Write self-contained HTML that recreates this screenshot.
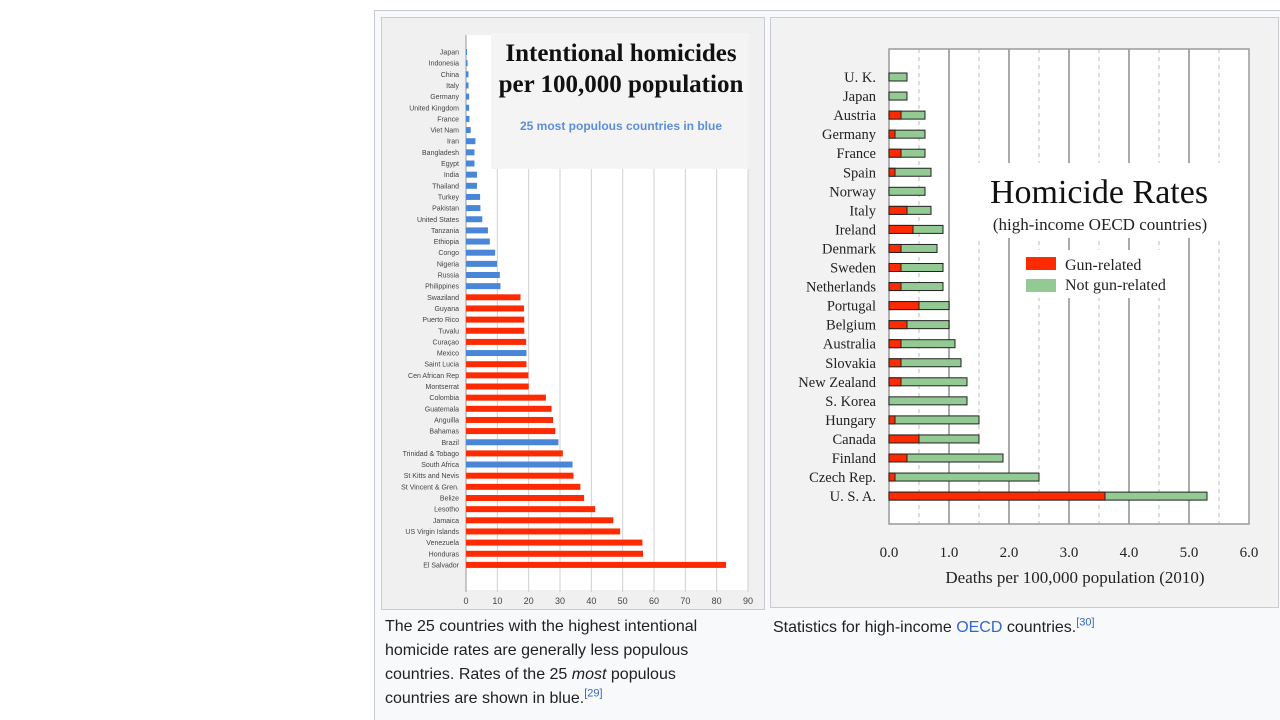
<!DOCTYPE html>
<html><head><meta charset="utf-8"><style>
body{margin:0;width:1280px;height:720px;background:#fff;overflow:hidden;font-family:"Liberation Sans",Arial,sans-serif}
svg{position:absolute;left:0;top:0}
.cap{position:absolute;font-size:16px;color:#202122;line-height:24px}
.cap sup{font-size:11px;color:#3366cc;line-height:0}
</style></head><body>
<svg id="s" width="1280" height="720">
<rect x="374.5" y="10.5" width="910" height="715" fill="#f8f9fa" stroke="#c8ccd1"/>
<rect x="381.5" y="17.5" width="383" height="592" fill="#f0f0f0" stroke="#c8ccd1"/>
<rect x="770.5" y="17.5" width="508" height="590" fill="#f2f2f2" stroke="#c8ccd1"/>
<g id="L"></g>
<g id="R"></g>
</svg>
<div class="cap" style="left:385px;top:615px;width:350px">The 25 countries with the highest intentional homicide rates are generally less populous countries. Rates of the 25 <i>most</i> populous countries are shown in blue.<sup>[29]</sup></div>
<div class="cap" style="left:773px;top:616px;width:500px">Statistics for high-income <span style="color:#3366cc">OECD</span> countries.<sup>[30]</sup></div>
<script>
const lCountries=["Japan","Indonesia","China","Italy","Germany","United Kingdom","France","Viet Nam","Iran","Bangladesh","Egypt","India","Thailand","Turkey","Pakistan","United States","Tanzania","Ethiopia","Congo","Nigeria","Russia","Philippines","Swaziland","Guyana","Puerto Rico","Tuvalu","Curaçao","Mexico","Saint Lucia","Cen African Rep","Montserrat","Colombia","Guatemala","Anguilla","Bahamas","Brazil","Trinidad & Tobago","South Africa","St Kitts and Nevis","St Vincent & Gren.","Belize","Lesotho","Jamaica","US Virgin Islands","Venezuela","Honduras","El Salvador"];
const lValues=[0.3,0.5,0.8,0.8,1.0,1.0,1.1,1.5,3.0,2.7,2.7,3.5,3.5,4.5,4.6,5.2,7.0,7.6,9.3,9.9,10.8,11.0,17.4,18.5,18.6,18.6,19.2,19.3,19.3,19.9,20.0,25.5,27.3,27.8,28.5,29.5,30.9,34.0,34.3,36.5,37.7,41.2,47.0,49.2,56.3,56.5,83.0];
const lBlue=[1,1,1,1,1,1,1,1,1,1,1,1,1,1,1,1,1,1,1,1,1,1,0,0,0,0,0,1,0,0,0,0,0,0,0,1,0,1,0,0,0,0,0,0,0,0,0];
const lTicks=[0,10,20,30,40,50,60,70,80,90];
const rCountries=["U. K.","Japan","Austria","Germany","France","Spain","Norway","Italy","Ireland","Denmark","Sweden","Netherlands","Portugal","Belgium","Australia","Slovakia","New Zealand","S. Korea","Hungary","Canada","Finland","Czech Rep.","U. S. A."];
const rGun=[0,0,0.2,0.1,0.2,0.1,0,0.3,0.4,0.2,0.2,0.2,0.5,0.3,0.2,0.2,0.2,0,0.1,0.5,0.3,0.1,3.6];
const rTotal=[0.3,0.3,0.6,0.6,0.6,0.7,0.6,0.7,0.9,0.8,0.9,0.9,1.0,1.0,1.1,1.2,1.3,1.3,1.5,1.5,1.9,2.5,5.3];
const rTicks=["0.0","1.0","2.0","3.0","4.0","5.0","6.0"];
const NS="http://www.w3.org/2000/svg";
function mk(p,t,a,txt){const e=document.createElementNS(NS,t);for(const k in a)e.setAttribute(k,a[k]);if(txt!==undefined)e.textContent=txt;p.appendChild(e);return e;}
// LEFT
const L=document.getElementById('L');
const lx=v=>466+v*(282/90), ly=i=>52+i*11.15;
mk(L,'rect',{x:466,y:35,width:282,height:555,fill:'#fff'});
lTicks.forEach(t=>{const g=mk(L,'line',{x1:lx(t),x2:lx(t),y1:35,y2:592,stroke:'#d0d0d0','stroke-width':1});

const tx=mk(L,'text',{x:lx(t),y:604,'font-size':9,fill:'#444','text-anchor':'middle'},t);
});
mk(L,'line',{x1:466,x2:466,y1:35,y2:592,stroke:'#999'});
const tb=mk(L,'rect',{x:491,y:33,width:258,height:136,fill:'#f4f4f4'});

let t1=mk(L,'text',{x:621,y:61,'font-size':25,'font-weight':'bold','font-family':'Liberation Serif',fill:'#111','text-anchor':'middle'},'Intentional homicides');

let t2=mk(L,'text',{x:621,y:92,'font-size':25,'font-weight':'bold','font-family':'Liberation Serif',fill:'#111','text-anchor':'middle'},'per 100,000 population');

let t3=mk(L,'text',{x:621,y:130,'font-size':12,'font-weight':'bold',fill:'#5b8fd9','text-anchor':'middle'},'25 most populous countries in blue');

lCountries.forEach((c,i)=>{
 const lb=mk(L,'text',{x:459,y:ly(i)+2.5,'font-size':7,fill:'#444','text-anchor':'end'},c);
 
 const b=mk(L,'rect',{x:466,y:ly(i)-3,width:Math.max(1,lx(lValues[i])-466),height:6,fill:lBlue[i]?'#4a86d8':'#ff2a00'});
 
});
// RIGHT
const R=document.getElementById('R');
const rx=v=>889+v*60, ry=i=>77+i*19.05;
mk(R,'rect',{x:889,y:49,width:360,height:475,fill:'#fff'});
for(let k=1;k<12;k++){const g=mk(R,'line',{x1:rx(k/2),x2:rx(k/2),y1:49,y2:524,stroke:k%2?'#bbb':'#aaa','stroke-width':k%2?1:2,'stroke-dasharray':k%2?'4,4':'none'});
}
mk(R,'rect',{x:889,y:49,width:360,height:475,fill:'none',stroke:'#999','stroke-width':1.5});
rTicks.forEach((t,i)=>{const tx=mk(R,'text',{x:rx(i),y:557,'font-size':15,'font-family':'Liberation Serif',fill:'#222','text-anchor':'middle'},t);
});
let xt=mk(R,'text',{x:1075,y:583,'font-size':17,'font-family':'Liberation Serif',fill:'#222','text-anchor':'middle'},'Deaths per 100,000 population (2010)');

mk(R,'rect',{x:975,y:163,width:245,height:75,fill:'#fff'});
let h1=mk(R,'text',{x:1099,y:203,'font-size':34,'font-family':'Liberation Serif',fill:'#111','text-anchor':'middle'},'Homicide Rates');

let h2=mk(R,'text',{x:1100,y:230,'font-size':17,'font-family':'Liberation Serif',fill:'#222','text-anchor':'middle'},'(high-income OECD countries)');

mk(R,'rect',{x:1020,y:250,width:165,height:48,fill:'#fff'});
let lg1=mk(R,'rect',{x:1026,y:257,width:30,height:13,fill:'#ff2a00'});
let lg2=mk(R,'rect',{x:1026,y:279,width:30,height:13,fill:'#93c993'});
let lt1=mk(R,'text',{x:1065,y:270,'font-size':16,'font-family':'Liberation Serif',fill:'#222'},'Gun-related');
let lt2=mk(R,'text',{x:1065,y:290,'font-size':16,'font-family':'Liberation Serif',fill:'#222'},'Not gun-related');
rCountries.forEach((c,i)=>{
 const lb=mk(R,'text',{x:876,y:ry(i)+5,'font-size':14.5,'font-family':'Liberation Serif',fill:'#222','text-anchor':'end'},c);
 
 const ng=mk(R,'rect',{x:rx(0),y:ry(i)-4,width:rx(rTotal[i])-rx(0),height:8,fill:'#93c993',stroke:'#222','stroke-width':1});
 
 if(rGun[i]>0){const g=mk(R,'rect',{x:rx(0),y:ry(i)-4,width:rx(rGun[i])-rx(0),height:8,fill:'#ff2a00',stroke:'#222','stroke-width':1});
 }
});
</script>
</body></html>
